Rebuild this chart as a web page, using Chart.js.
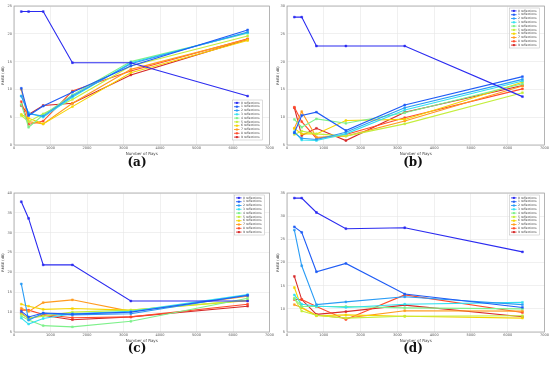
<!DOCTYPE html>
<html lang="en">
<head>
<meta charset="UTF-8">
<title>RMSE vs Number of Rays</title>
<script src="https://cdn.jsdelivr.net/npm/chart.js"></script>
<style>
  body { margin: 0; background: #ffffff; width: 550px; height: 365px; position: relative; overflow: hidden; }
  canvas { position: absolute; }
  .cap { position: absolute; width: 40px; text-align: center; font-family: 'DejaVu Serif', serif; font-weight: bold; font-size: 12px; color: #111; }
</style>
</head>
<body>

<canvas id="chA" width="275" height="158" style="left:0px;top:0px"></canvas>
<canvas id="chB" width="275" height="158" style="left:275px;top:0px"></canvas>
<canvas id="chC" width="275" height="158" style="left:0px;top:187px"></canvas>
<canvas id="chD" width="275" height="158" style="left:275px;top:187px"></canvas>

<div class="cap" style="left:117px;top:155px">(a)</div>
<div class="cap" style="left:393px;top:155px">(b)</div>
<div class="cap" style="left:117px;top:341px">(c)</div>
<div class="cap" style="left:393px;top:341px">(d)</div>

<script>
// x values shared by all panels
const rays = [200, 400, 800, 1600, 3200, 6400];
const reflLabels = ['0 reflections', '1 reflections', '2 reflections', '3 reflections', '4 reflections',
                    '5 reflections', '6 reflections', '7 reflections', '8 reflections', '9 reflections'];
const reflColors = ['#2b2bf0', '#1f5cf5', '#2a9cf5', '#33e0f0', '#7df08a',
                    '#c4ee3c', '#f5d400', '#ff9a1f', '#ff4a2a', '#d62a2a'];

// RMSE (dB), one row per reflection count
const rmseA = [
  [24, 24, 24, 14.8, 14.8, 8.8],
  [10.2, 5.3, 7.0, 9.5, 14.2, 20.7],
  [8.8, 5.6, 5.2, 8.8, 14.6, 20.3],
  [8.8, 5.8, 5.0, 8.6, 14.8, 20.2],
  [7.3, 3.2, 5.4, 9.0, 15.0, 20.1],
  [5.3, 4.2, 5.6, 8.2, 14.2, 19.6],
  [5.5, 4.8, 3.8, 6.9, 13.0, 18.8],
  [10.0, 4.2, 3.8, 7.5, 13.6, 19.0],
  [7.8, 3.7, 4.3, 9.7, 13.3, 19.1],
  [7.1, 5.5, 7.1, 7.5, 12.6, 19.0]
];
const rmseB = [
  [28, 28, 22.8, 22.8, 22.8, 13.7],
  [7.2, 10.3, 10.9, 7.6, 12.2, 17.3],
  [7.2, 6.2, 6.0, 7.3, 11.7, 16.8],
  [7.4, 5.9, 5.8, 7.0, 11.3, 16.5],
  [9.6, 8.2, 9.7, 8.9, 10.8, 16.0],
  [6.9, 7.5, 7.0, 6.6, 8.8, 14.4],
  [8.0, 7.0, 7.0, 9.4, 9.6, 16.3],
  [8.0, 11.0, 6.4, 6.6, 9.3, 15.6],
  [11.8, 9.2, 6.2, 6.9, 9.9, 15.1],
  [11.7, 6.7, 8.0, 5.8, 10.9, 15.7]
];
const rmseC = [
  [37.8, 33.6, 21.9, 21.9, 12.8, 12.8],
  [10.2, 8.8, 9.8, 9.5, 10.0, 14.2],
  [17.1, 8.0, 9.7, 9.3, 9.6, 14.3],
  [8.5, 7.0, 8.4, 9.6, 10.2, 14.4],
  [9.0, 8.0, 6.6, 6.3, 7.7, 13.5],
  [9.5, 8.5, 9.0, 10.0, 10.5, 13.0],
  [12.0, 11.5, 10.7, 10.9, 10.5, 12.9],
  [11.0, 10.2, 12.4, 13.1, 10.2, 14.0],
  [10.5, 10.5, 9.4, 8.6, 8.8, 12.0],
  [9.7, 8.4, 9.2, 8.1, 8.8, 11.5]
];
const rmseD = [
  [33.9, 33.9, 30.8, 27.3, 27.5, 22.3],
  [27.7, 26.5, 18.0, 19.8, 13.2, 10.3],
  [27.0, 19.3, 10.9, 11.5, 12.6, 10.9],
  [13.0, 11.0, 10.6, 10.3, 11.0, 11.4],
  [12.2, 10.5, 10.5, 10.5, 10.2, 10.0],
  [12.3, 9.5, 8.6, 8.0, 8.4, 8.5],
  [14.6, 10.2, 8.5, 8.7, 8.4, 8.0],
  [10.9, 10.3, 8.6, 8.0, 9.6, 9.5],
  [12.0, 12.0, 10.5, 7.7, 13.0, 9.2],
  [17.0, 12.0, 8.8, 9.4, 10.8, 8.3]
];

// frame round the plot area + small legend box inside it
const framePlugin = {
  id: 'frame',
  afterDraw(chart, args, opts) {
    const ctx = chart.ctx;
    const a = chart.chartArea;
    ctx.save();
    ctx.strokeStyle = '#9a9a9a';
    ctx.lineWidth = 0.7;
    ctx.strokeRect(a.left, a.top, a.width, a.height);

    const w = 30, rowH = 3.8, h = rowH * chart.data.datasets.length + 2;
    const x0 = a.right - opts.right - w;
    const y0 = opts.corner === 'bottom' ? a.bottom - opts.bottom - h : a.top + opts.top;
    ctx.fillStyle = '#ffffff';
    ctx.fillRect(x0, y0, w, h);
    ctx.strokeStyle = '#b8b8b8';
    ctx.lineWidth = 0.5;
    ctx.strokeRect(x0, y0, w, h);
    ctx.font = '3px "DejaVu Sans"';
    ctx.textBaseline = 'middle';
    chart.data.datasets.forEach((ds, i) => {
      const yy = y0 + 1 + rowH * (i + 0.5);
      ctx.strokeStyle = ds.borderColor;
      ctx.lineWidth = 0.9;
      ctx.beginPath();
      ctx.moveTo(x0 + 1.5, yy);
      ctx.lineTo(x0 + 7, yy);
      ctx.stroke();
      ctx.fillStyle = ds.borderColor;
      ctx.fillRect(x0 + 3.3, yy - 1, 2, 2);
      ctx.fillStyle = '#444';
      ctx.fillText(ds.label, x0 + 8.5, yy);
    });
    ctx.restore();
  }
};

function makeChart(id, rows, yMin, yMax, yAxisW, rightPad, legendPos) {
  const datasets = rows.map((vals, i) => ({
    label: reflLabels[i],
    data: rays.map((r, k) => ({ x: r, y: vals[k] })),
    borderColor: reflColors[i],
    backgroundColor: reflColors[i],
    borderWidth: 1.1,
    pointStyle: 'rect',
    pointRadius: 1.3,
    pointBorderWidth: 0.5,
    tension: 0
  }));
  return new Chart(document.getElementById(id), {
    type: 'line',
    data: { datasets: datasets },
    options: {
      responsive: false,
      animation: false,
      layout: { padding: { top: 6, right: rightPad, left: 0, bottom: 0 } },
      plugins: {
        legend: { display: false },
        tooltip: { enabled: false },
        frame: legendPos
      },
      scales: {
        x: {
          type: 'linear', min: 0, max: 7000,
          ticks: { stepSize: 1000, callback: v => String(v), font: { size: 3.5, family: 'DejaVu Sans' }, color: '#555', padding: 1, maxRotation: 0 },
          grid: { color: '#e6e6e6', lineWidth: 0.6, drawTicks: false },
          border: { display: false },
          title: { display: true, text: 'Number of Rays', font: { size: 4, family: 'DejaVu Sans' }, color: '#444', padding: { top: 0, bottom: 2 } },
          afterFit: s => { s.height = 13; }
        },
        y: {
          min: yMin, max: yMax,
          ticks: { stepSize: 5, callback: v => String(v), font: { size: 3.5, family: 'DejaVu Sans' }, color: '#555', padding: 2 },
          grid: { color: '#e6e6e6', lineWidth: 0.6, drawTicks: false },
          border: { display: false },
          title: { display: true, text: 'RMSE (dB)', font: { size: 3.5, family: 'DejaVu Sans' }, color: '#444', padding: { top: 1, bottom: 0 } },
          afterFit: s => { s.width = yAxisW; }
        }
      }
    },
    plugins: [framePlugin]
  });
}

makeChart('chA', rmseA, 0, 25, 14, 1, { corner: 'bottom', right: 7, bottom: 5 });
makeChart('chB', rmseB, 5, 30, 12, 3, { corner: 'top', right: 5, top: 2 });
makeChart('chC', rmseC, 5, 40, 14, 1, { corner: 'top', right: 5, top: 2 });
makeChart('chD', rmseD, 5, 35, 12, 3, { corner: 'top', right: 5, top: 2 });
</script>
</body>
</html>
